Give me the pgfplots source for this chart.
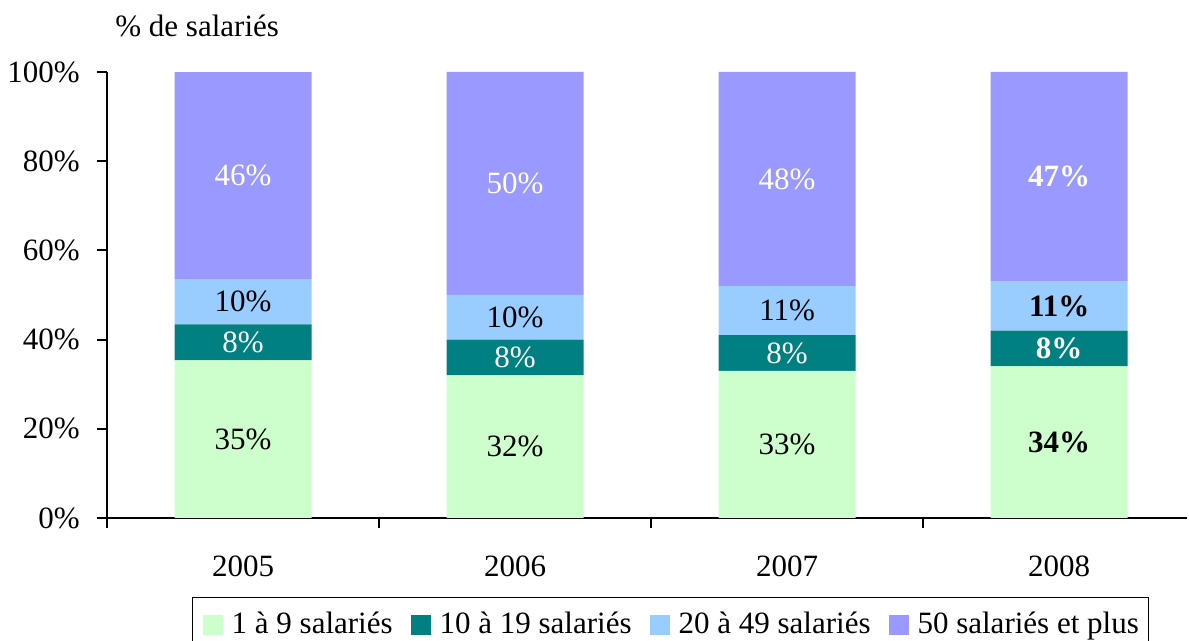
\documentclass[border=0pt]{standalone}
\usepackage{pgfplots}
\pgfplotsset{compat=1.18}
\usepackage{pgfplotstable}
\usepackage{fontspec}
\setmainfont{Liberation Serif}
\definecolor{cA}{HTML}{CCFFCC}
\definecolor{cB}{HTML}{008080}
\definecolor{cC}{HTML}{99CCFF}
\definecolor{cD}{HTML}{9999FF}
\pgfplotsset{
 common/.style={scale only axis, width=540pt, height=223pt, xmin=-0.5, xmax=3.47, ymin=0, ymax=100, enlargelimits=false}
}
% shares of employees (100% stacked; 2005 normalised from 35/8/10/46)
\pgfplotstableread{
x a b c d
0 35.35 8.08 10.10 46.46
1 32 8 10 50
2 33 8 11 48
3 34 8 11 47
}\bars
\begin{document}
\fontsize{15.5}{18.5}\selectfont
\begin{tikzpicture}
\begin{axis}[common, name=ax, ybar stacked, bar width=68.5pt,
 axis x line*=bottom, axis y line*=left, axis line style={line width=1pt},
 xtick={-0.5,0.5,1.5,2.5}, xticklabels={},
 extra x ticks={0,1,2,3}, extra x tick labels={2005,2006,2007,2008},
 extra x tick style={tick style={draw=none}},
 xticklabel style={anchor=north, inner sep=0pt, yshift=-13.5pt},
 ytick={0,20,...,100}, yticklabels={0\%,20\%,40\%,60\%,80\%,100\%},
 yticklabel style={anchor=east, inner sep=0pt, xshift=-8.5pt},
 tick align=outside, major tick length=5pt, tick style={line width=1pt, black},
 legend columns=4,
 legend style={at={(0.522,0)}, anchor=north, yshift=-39.5pt, draw=black, line width=0.6pt,
   inner xsep=5pt, inner ysep=7pt, nodes={inner sep=0pt},
   /tikz/every odd column/.append style={column sep=4.5pt},
   /tikz/every even column/.append style={column sep=9pt}, cells={anchor=west}},
 legend image code/.code={\fill[#1] (0pt,-5pt) rectangle (10pt,5pt);},
]
\addplot[fill=cA, draw=none] table[x=x,y=a]{\bars};
\addplot[fill=cB, draw=none] table[x=x,y=b]{\bars};
\addplot[fill=cC, draw=none] table[x=x,y=c]{\bars};
\addplot[fill=cD, draw=none] table[x=x,y=d]{\bars};
\legend{1 à 9 salariés, 10 à 19 salariés, 20 à 49 salariés, 50 salariés et plus}
\end{axis}
\begin{axis}[common, hide axis, at={(ax.south west)}, anchor=south west,
 point meta=explicit symbolic, nodes near coords={\pgfplotspointmeta\%},
 every node near coord/.append style={anchor=center, inner sep=0pt}]
% label positions: middle of each segment; meta = printed value
\addplot[draw=none, mark=none, every node near coord/.append style={text=white}] table[meta=v]{
x y v
0 76.77 46
1 75 50
2 76 48
0 39.39 8
1 36 8
2 37 8
};
\addplot[draw=none, mark=none, every node near coord/.append style={text=white, font=\bfseries}] table[meta=v]{
x y v
3 76.5 47
3 38 8
};
\addplot[draw=none, mark=none, every node near coord/.append style={text=black}] table[meta=v]{
x y v
0 48.48 10
1 45 10
2 46.5 11
0 17.68 35
1 16 32
2 16.5 33
};
\addplot[draw=none, mark=none, every node near coord/.append style={text=black, font=\bfseries}] table[meta=v]{
x y v
3 47.5 11
3 17 34
};
\end{axis}
\node[anchor=base west, inner sep=0pt] at ([shift={(4pt,240.5pt)}]ax.south west) {\% de salariés};
\pgfresetboundingbox
\path[use as bounding box] ([shift={(-53.5pt,-61.5pt)}]ax.south west) rectangle ([shift={(541pt,259pt)}]ax.south west);
\end{tikzpicture}
\end{document}
